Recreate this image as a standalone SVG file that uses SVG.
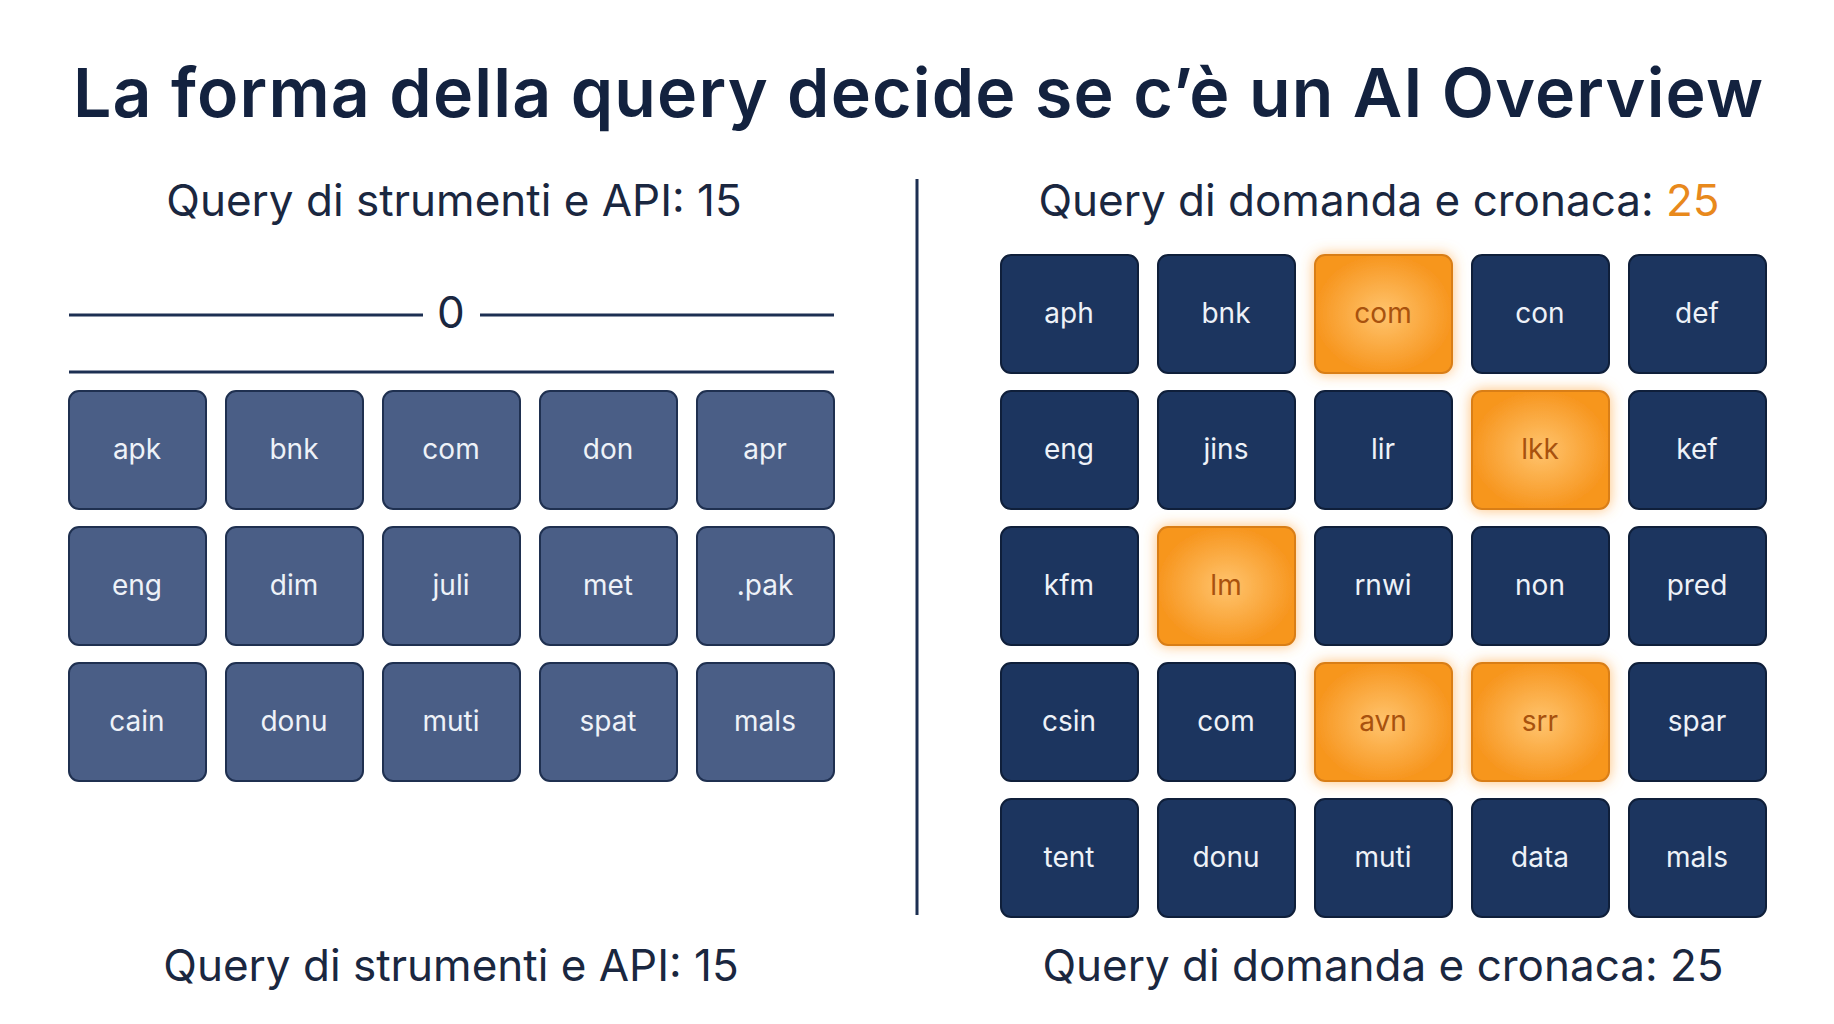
<svg xmlns="http://www.w3.org/2000/svg" width="1834" height="1024" viewBox="0 0 1834 1024">
<style>
text{font-family:Inter,"Noto Sans","Liberation Sans",sans-serif;}
.t{font-size:68px;font-weight:600;fill:#13223f;text-anchor:middle}
.h{font-size:44px;fill:#1a2740;text-anchor:middle}
.l{font-size:28px;fill:#eef2f8;text-anchor:middle}
.lo{font-size:28px;fill:#a8520e;text-anchor:middle}
.a rect{fill:#4a5e86;stroke:#1f3050;stroke-width:2}
.b rect{fill:#1c355f;stroke:#0f1f3a;stroke-width:2}
.o rect{fill:url(#og);stroke:#d97e17;stroke-width:2;filter:url(#glow)}
</style>
<defs>
<radialGradient id="og"><stop offset="0" stop-color="#ffc46e"/><stop offset="1" stop-color="#f7961f"/></radialGradient>
<filter id="glow" x="-30%" y="-30%" width="160%" height="160%"><feGaussianBlur in="SourceAlpha" stdDeviation="7" result="b"/><feFlood flood-color="#ffa640" flood-opacity="0.7"/><feComposite in2="b" operator="in"/><feMerge><feMergeNode/><feMergeNode in="SourceGraphic"/></feMerge></filter>
</defs>
<rect width="1834" height="1024" fill="#fff"/>
<text class="t" x="918" y="117" textLength="1690">La forma della query decide se c’è un AI Overview</text>
<text class="h" x="454" y="216">Query di strumenti e API: 15</text>
<text class="h" x="1379" y="216">Query di domanda e cronaca: <tspan fill="#e8891c">25</tspan></text>
<g id="connectors" stroke="#1c2f52" stroke-width="3">
<line x1="917" y1="179" x2="917" y2="915"/>
<line x1="69" y1="315" x2="423" y2="315"/>
<line x1="480" y1="315" x2="834" y2="315"/>
<line x1="69" y1="372" x2="834" y2="372"/>
</g>
<text class="h" x="451" y="328" font-size="40">0</text>
<g id="left" class="a">
<g id="L1"><rect x="69" y="391" width="137" height="118" rx="10"/><text class="l" x="137" y="459">apk</text></g>
<g id="L2"><rect x="226" y="391" width="137" height="118" rx="10"/><text class="l" x="294" y="459">bnk</text></g>
<g id="L3"><rect x="383" y="391" width="137" height="118" rx="10"/><text class="l" x="451" y="459">com</text></g>
<g id="L4"><rect x="540" y="391" width="137" height="118" rx="10"/><text class="l" x="608" y="459">don</text></g>
<g id="L5"><rect x="697" y="391" width="137" height="118" rx="10"/><text class="l" x="765" y="459">apr</text></g>
<g id="L6"><rect x="69" y="527" width="137" height="118" rx="10"/><text class="l" x="137" y="595">eng</text></g>
<g id="L7"><rect x="226" y="527" width="137" height="118" rx="10"/><text class="l" x="294" y="595">dim</text></g>
<g id="L8"><rect x="383" y="527" width="137" height="118" rx="10"/><text class="l" x="451" y="595">juli</text></g>
<g id="L9"><rect x="540" y="527" width="137" height="118" rx="10"/><text class="l" x="608" y="595">met</text></g>
<g id="L10"><rect x="697" y="527" width="137" height="118" rx="10"/><text class="l" x="765" y="595">.pak</text></g>
<g id="L11"><rect x="69" y="663" width="137" height="118" rx="10"/><text class="l" x="137" y="731">cain</text></g>
<g id="L12"><rect x="226" y="663" width="137" height="118" rx="10"/><text class="l" x="294" y="731">donu</text></g>
<g id="L13"><rect x="383" y="663" width="137" height="118" rx="10"/><text class="l" x="451" y="731">muti</text></g>
<g id="L14"><rect x="540" y="663" width="137" height="118" rx="10"/><text class="l" x="608" y="731">spat</text></g>
<g id="L15"><rect x="697" y="663" width="137" height="118" rx="10"/><text class="l" x="765" y="731">mals</text></g>
</g>
<g id="right">
<g id="R1" class="b"><rect x="1001" y="255" width="137" height="118" rx="10"/><text class="l" x="1069" y="323">aph</text></g>
<g id="R2" class="b"><rect x="1158" y="255" width="137" height="118" rx="10"/><text class="l" x="1226" y="323">bnk</text></g>
<g id="R3" class="o"><rect x="1315" y="255" width="137" height="118" rx="10"/><text class="lo" x="1383" y="323">com</text></g>
<g id="R4" class="b"><rect x="1472" y="255" width="137" height="118" rx="10"/><text class="l" x="1540" y="323">con</text></g>
<g id="R5" class="b"><rect x="1629" y="255" width="137" height="118" rx="10"/><text class="l" x="1697" y="323">def</text></g>
<g id="R6" class="b"><rect x="1001" y="391" width="137" height="118" rx="10"/><text class="l" x="1069" y="459">eng</text></g>
<g id="R7" class="b"><rect x="1158" y="391" width="137" height="118" rx="10"/><text class="l" x="1226" y="459">jins</text></g>
<g id="R8" class="b"><rect x="1315" y="391" width="137" height="118" rx="10"/><text class="l" x="1383" y="459">lir</text></g>
<g id="R9" class="o"><rect x="1472" y="391" width="137" height="118" rx="10"/><text class="lo" x="1540" y="459">lkk</text></g>
<g id="R10" class="b"><rect x="1629" y="391" width="137" height="118" rx="10"/><text class="l" x="1697" y="459">kef</text></g>
<g id="R11" class="b"><rect x="1001" y="527" width="137" height="118" rx="10"/><text class="l" x="1069" y="595">kfm</text></g>
<g id="R12" class="o"><rect x="1158" y="527" width="137" height="118" rx="10"/><text class="lo" x="1226" y="595">lm</text></g>
<g id="R13" class="b"><rect x="1315" y="527" width="137" height="118" rx="10"/><text class="l" x="1383" y="595">rnwi</text></g>
<g id="R14" class="b"><rect x="1472" y="527" width="137" height="118" rx="10"/><text class="l" x="1540" y="595">non</text></g>
<g id="R15" class="b"><rect x="1629" y="527" width="137" height="118" rx="10"/><text class="l" x="1697" y="595">pred</text></g>
<g id="R16" class="b"><rect x="1001" y="663" width="137" height="118" rx="10"/><text class="l" x="1069" y="731">csin</text></g>
<g id="R17" class="b"><rect x="1158" y="663" width="137" height="118" rx="10"/><text class="l" x="1226" y="731">com</text></g>
<g id="R18" class="o"><rect x="1315" y="663" width="137" height="118" rx="10"/><text class="lo" x="1383" y="731">avn</text></g>
<g id="R19" class="o"><rect x="1472" y="663" width="137" height="118" rx="10"/><text class="lo" x="1540" y="731">srr</text></g>
<g id="R20" class="b"><rect x="1629" y="663" width="137" height="118" rx="10"/><text class="l" x="1697" y="731">spar</text></g>
<g id="R21" class="b"><rect x="1001" y="799" width="137" height="118" rx="10"/><text class="l" x="1069" y="867">tent</text></g>
<g id="R22" class="b"><rect x="1158" y="799" width="137" height="118" rx="10"/><text class="l" x="1226" y="867">donu</text></g>
<g id="R23" class="b"><rect x="1315" y="799" width="137" height="118" rx="10"/><text class="l" x="1383" y="867">muti</text></g>
<g id="R24" class="b"><rect x="1472" y="799" width="137" height="118" rx="10"/><text class="l" x="1540" y="867">data</text></g>
<g id="R25" class="b"><rect x="1629" y="799" width="137" height="118" rx="10"/><text class="l" x="1697" y="867">mals</text></g>
</g>
<text class="h" x="451" y="981" font-size="42">Query di strumenti e API: 15</text>
<text class="h" x="1383" y="981" font-size="42">Query di domanda e cronaca: 25</text>
</svg>
